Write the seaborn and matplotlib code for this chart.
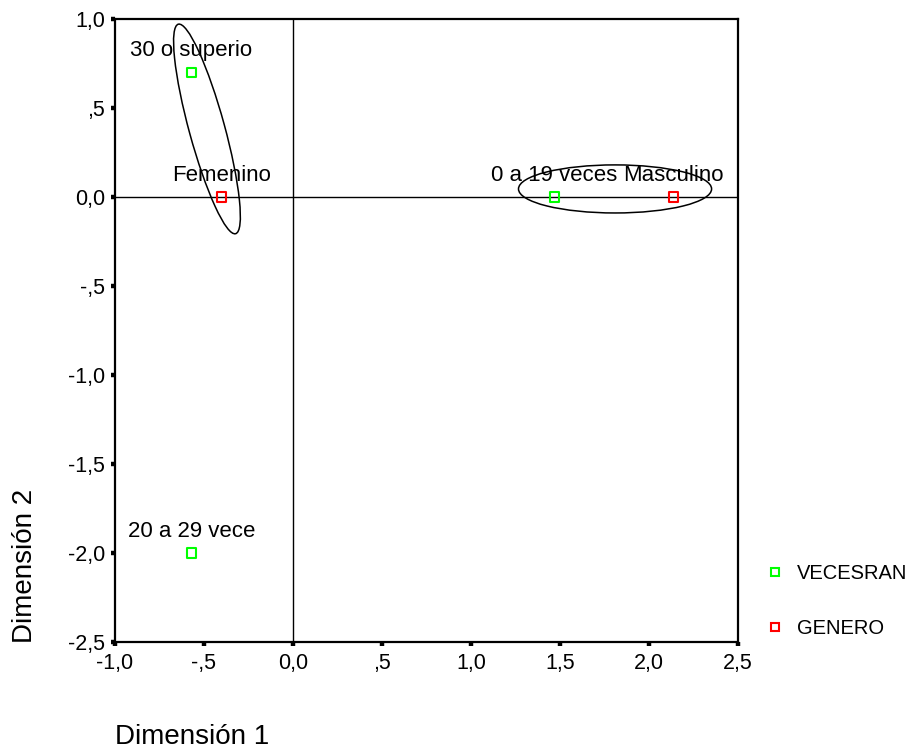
import pandas as pd
import seaborn as sns
import matplotlib.pyplot as plt
from matplotlib.patches import Ellipse

# puntos de categorias (coordenadas en dimension 1 y 2)
etiquetas = ['30 o superio', '20 a 29 vece', '0 a 19 veces', 'Femenino', 'Masculino']
dim1 = [-0.57, -0.57, 1.47, -0.40, 2.14]
dim2 = [0.70, -2.00, 0.00, 0.00, 0.00]
variable = ['VECESRAN', 'VECESRAN', 'VECESRAN', 'GENERO', 'GENERO']

ticks = [-2.5, -2.0, -1.5, -1.0, -0.5, 0.0, 0.5, 1.0, 1.5, 2.0, 2.5]
tick_labels = ['-2,5', '-2,0', '-1,5', '-1,0', '-,5', '0,0', ',5', '1,0', '1,5', '2,0', '2,5']

df = pd.DataFrame({'etiqueta': etiquetas, 'dim1': dim1, 'dim2': dim2, 'variable': variable})

sns.set_style('white')
plt.rcParams['font.family'] = ['Liberation Sans', 'DejaVu Sans']
plt.rcParams['text.color'] = 'black'
plt.rcParams['xtick.color'] = 'black'
plt.rcParams['ytick.color'] = 'black'

fig = plt.figure(figsize=(9.16, 7.48), dpi=100)
ax = fig.add_axes([0.1255, 0.1417, 0.680, 0.833])

ax.axhline(0, color='black', lw=1.0, zorder=1)
ax.axvline(0, color='black', lw=1.0, zorder=1)

colores = {'VECESRAN': '#00ff00', 'GENERO': '#ff0000'}
sns.scatterplot(data=df, x='dim1', y='dim2', hue='variable', marker='s',
                palette=colores, s=45, linewidth=1.5, ax=ax, zorder=3, legend=False)
for c in ax.collections:
    ec = c.get_facecolors()
    c.set_edgecolors(ec)
    c.set_facecolor('none')

# etiquetas sobre cada punto
for _, r in df.iterrows():
    ax.annotate(r['etiqueta'], (r['dim1'], r['dim2']), xytext=(0, 8),
                textcoords='offset points', ha='center', va='bottom', fontsize=16)

# elipses de agrupacion
ax.add_patch(Ellipse((-0.483, 0.382), 1.22, 0.20, angle=-74.7,
                     fill=False, color='black', lw=1.1, zorder=2))
ax.add_patch(Ellipse((1.81, 0.045), 1.085, 0.27, angle=0,
                     fill=False, color='black', lw=1.1, zorder=2))

ax.set_xlim(-1.0, 2.5)
ax.set_ylim(-2.5, 1.0)
ax.set_xticks(ticks[3:])
ax.set_xticklabels(tick_labels[3:])
ax.set_yticks(ticks[:8])
ax.set_yticklabels(tick_labels[:8])
ax.tick_params(bottom=True, left=True, direction='out', length=3, width=3.2,
               labelsize=15.5, color='black')
ax.tick_params(axis='y', pad=4)
ax.tick_params(axis='x', pad=5)
for s in ax.spines.values():
    s.set_linewidth(1.6)
    s.set_color('black')
ax.set_xlabel('')
ax.set_ylabel('')

fig.text(0.027, 0.243, 'Dimensión 2', rotation=90, fontsize=20, ha='center', va='center')
fig.text(0.21, 0.015, 'Dimensión 1', fontsize=20, ha='center', va='center')

# leyenda manual con cuadrados huecos
handles = [plt.Line2D([], [], ls='', marker='s', markersize=6, markerfacecolor='none',
                      markeredgecolor=colores[k], markeredgewidth=1.5) for k in colores]
fig.legend(handles, list(colores), loc='upper left', bbox_to_anchor=(0.8153, 0.2705),
           frameon=False, fontsize=14.5, handlelength=1, handletextpad=0.6,
           labelspacing=1.82, borderpad=0.4)

plt.savefig('out.png', dpi=100)
